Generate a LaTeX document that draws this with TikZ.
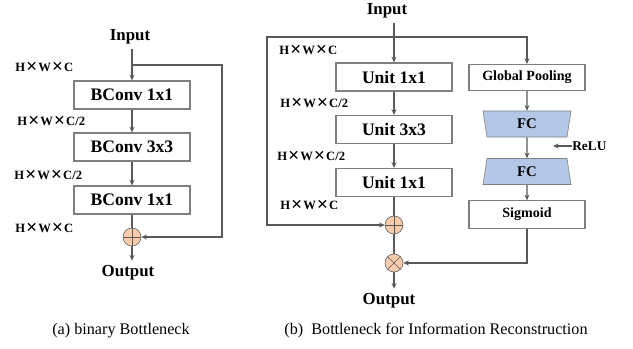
\documentclass[tikz,border=0pt]{standalone}
\usepackage{fontspec}
\setmainfont{Liberation Serif}[BoldFont={Liberation Serif Bold}]
\newfontfamily\symfont{DejaVu Sans}
\usetikzlibrary{arrows.meta}
\usetikzlibrary{shapes.geometric}

\definecolor{linegray}{HTML}{595959}
\definecolor{boxgray}{HTML}{7F7F7F}
\definecolor{fcblue}{HTML}{B4C7E7}
\definecolor{opfill}{HTML}{F8CBAD}

\newcommand{\hwc}[1]{H{\symfont\bfseries\fontsize{10}{11}\selectfont\kern.5pt✕\kern.5pt}W{\symfont\bfseries\fontsize{10}{11}\selectfont\kern.5pt✕\kern.5pt}C#1}

\tikzset{
  lbl/.style={font=\fontsize{12}{14}\selectfont\bfseries},
  dimlbl/.style={font=\fontsize{9}{11}\selectfont\bfseries, anchor=west, inner sep=0pt},
  unitbox/.style={draw=boxgray, thick, minimum width=2.9cm, minimum height=0.7cm, inner sep=0pt,
    font=\fontsize{12.5}{14}\selectfont\bfseries},
  smallbox/.style={draw=boxgray, thick, minimum width=2.9cm, minimum height=0.65cm, inner sep=0pt,
    font=\fontsize{10}{12}\selectfont\bfseries},
  fcbox/.style={trapezium, trapezium stretches body, trapezium angle=68, draw=boxgray, fill=fcblue,
    minimum width=2.2cm, minimum height=0.65cm, inner sep=0pt, font=\fontsize{10.5}{12}\selectfont\bfseries},
  opnode/.style={circle, draw=linegray, fill=opfill, minimum size=0.45cm, inner sep=0pt},
  addop/.style={opnode, path picture={\draw[linegray]
    (path picture bounding box.north) -- (path picture bounding box.south)
    (path picture bounding box.west) -- (path picture bounding box.east);}},
  mulop/.style={opnode, path picture={\draw[linegray]
    (path picture bounding box.north west) -- (path picture bounding box.south east)
    (path picture bounding box.north east) -- (path picture bounding box.south west);}},
  conn/.style={draw=linegray, thick},
  >={Stealth[length=4pt,width=3.5pt]}
}

\begin{document}
\begin{tikzpicture}[x=0.025cm,y=-0.025cm]
  \useasboundingbox (0,0) rectangle (633,349);

  % (a) binary bottleneck
  \node[lbl] (inA) at (130,37) {Input};
  \node[unitbox] (ba1) at (132,95) {BConv 1x1};
  \node[unitbox] (ba2) at (132,147) {BConv 3x3};
  \node[unitbox] (ba3) at (132,200) {BConv 1x1};
  \node[addop] (pa) at (132,237) {};
  \node[lbl] (outA) at (128,273) {Output};
  \node[dimlbl] (da1) at (15,67) {\hwc{}};
  \node[dimlbl] (da2) at (17,121) {\hwc{/2}};
  \node[dimlbl] (da3) at (14,175) {\hwc{/2}};
  \node[dimlbl] (da4) at (15,228) {\hwc{}};
  \coordinate (sa) at (132,65);
  \coordinate (ra) at (222,65);

  \draw[conn,->] (ba1.north |- inA.south) -- (ba1);
  \draw[conn,->] (ba1) -- (ba2);
  \draw[conn,->] (ba2) -- (ba3);
  \draw[conn] (ba3) -- (pa);
  \draw[conn,->] (pa) -- (pa.south |- outA.north);
  \draw[conn,->] (sa) -- (ra) |- (pa);

  % (b) bottleneck for information reconstruction
  \node[lbl] (inB) at (387,11) {Input};
  \node[unitbox] (bb1) at (394,77) {Unit 1x1};
  \node[unitbox] (bb2) at (394,129.5) {Unit 3x3};
  \node[unitbox] (bb3) at (394,182.5) {Unit 1x1};
  \node[addop] (pb) at (394,225) {};
  \node[mulop] (tb) at (394,263) {};
  \node[lbl] (outB) at (389,301) {Output};
  \node[dimlbl] (db1) at (279,50) {\hwc{}};
  \node[dimlbl] (db2) at (280,103) {\hwc{/2}};
  \node[dimlbl] (db3) at (277,156) {\hwc{/2}};
  \node[dimlbl] (db4) at (280,205) {\hwc{}};

  \node[smallbox] (gp) at (527,77.5) {Global Pooling};
  \node[fcbox, shape border rotate=180] (fc1) at (527,124) {FC};
  \node[fcbox] (fc2) at (527,171.5) {FC};
  \node[smallbox, minimum height=0.68cm] (sig) at (527,214.5) {Sigmoid};
  \node[font=\fontsize{9.5}{11}\selectfont\bfseries, anchor=west, inner sep=0pt] (relu) at (572,146) {ReLU};
  \coordinate (sb) at (394,37);
  \coordinate (lb) at (267,37);
  \coordinate (rb) at (527,37);
  \coordinate (rl) at (553,146);

  \draw[conn,->] (bb1.north |- inB.south) -- (bb1);
  \draw[conn,->] (bb1) -- (bb2);
  \draw[conn,->] (bb2) -- (bb3);
  \draw[conn] (bb3) -- (pb);
  \draw[conn] (pb) -- (tb);
  \draw[conn,->] (tb) -- (tb.south |- outB.north);
  \draw[conn,->] (sb) -- (lb) |- (pb);
  \draw[conn,->] (sb) -- (rb) -- (gp);
  \draw[conn,->] (gp) -- (fc1);
  \draw[conn,->] (fc1) -- (fc2);
  \draw[conn,->] (fc2) -- (sig);
  \draw[conn,->] (sig) |- (tb);
  \draw[conn,->] (relu) -- (rl);

  % captions
  \node[font=\fontsize{11.5}{13}\selectfont] (capA) at (121,331) {(a) binary Bottleneck};
  \node[font=\fontsize{11.5}{13}\selectfont] (capB) at (436,331) {(b)\ \ Bottleneck for Information Reconstruction};
\end{tikzpicture}
\end{document}
